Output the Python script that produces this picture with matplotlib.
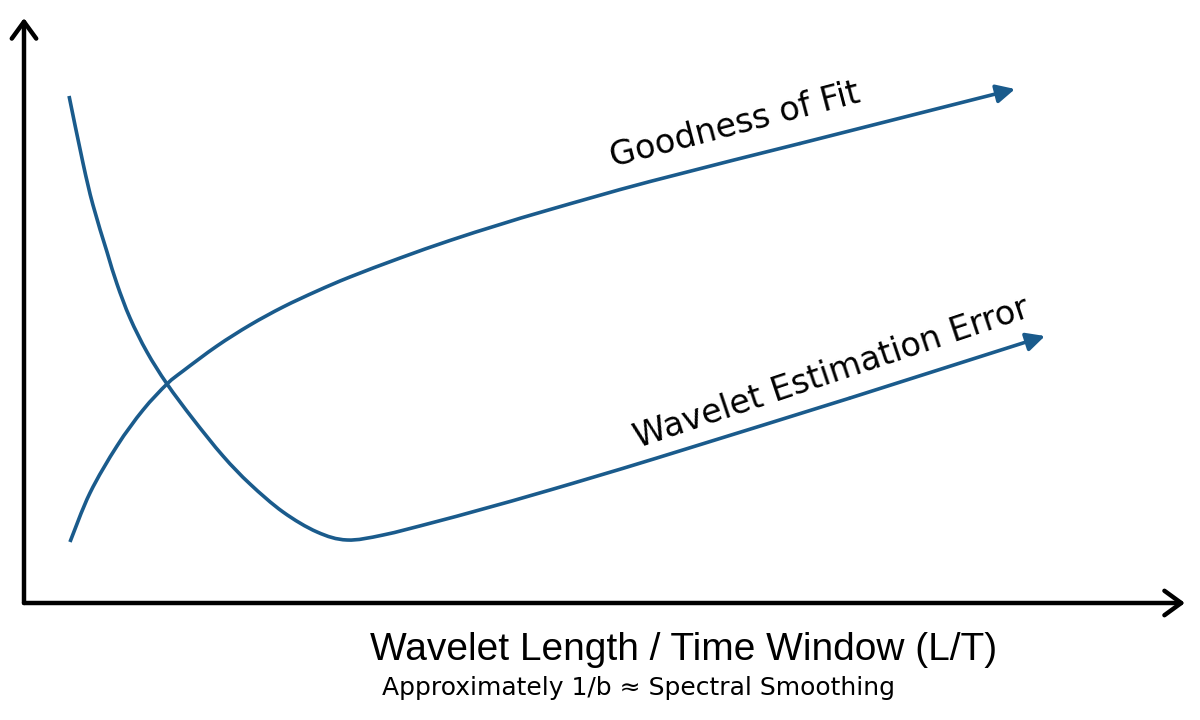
import matplotlib
matplotlib.use("Agg")
import matplotlib.pyplot as plt
from matplotlib.path import Path
from matplotlib.patches import PathPatch

# ---- data (schematic) ----
gof_x = [3.96, 5.68, 8.01, 10.25, 12.32, 13.70, 16.62, 19.47, 22.31, 25.24,
         28.08, 32.39, 36.69, 41.0, 45.31, 53.92, 66.84, 85.36]
gof_y = [10.43, 18.80, 26.84, 32.99, 37.44, 39.66, 43.93, 47.52, 50.60, 53.33,
         55.73, 58.97, 61.97, 64.70, 67.26, 72.05, 78.55, 87.86]

err_x = [3.88, 5.08, 5.94, 7.15, 8.01, 9.13, 10.59, 12.32, 14.56, 17.14, 19.47,
         22.31, 25.24, 27.82, 30.92, 35.23, 39.53, 45.31, 54.52, 71.15, 87.94]
err_y = [86.67, 75.21, 68.03, 60.0, 54.53, 48.72, 42.91, 37.44, 31.45, 25.13, 20.34,
         15.56, 12.14, 10.77, 11.62, 13.76, 16.07, 19.32, 24.79, 35.04, 45.64]

gof_label = "Goodness of Fit"
err_label = "Wavelet Estimation Error"
xlabel_main = "Wavelet Length / Time Window (L/T)"
xlabel_sub = "Approximately 1/b \u2248 Spectral Smoothing"

blue = "#1a5b8c"


def smooth_path(xs, ys):
    """Catmull-Rom curve through the given points, drawn as Bezier segments."""
    pts = list(zip(xs, ys))
    verts = [pts[0]]
    codes = [Path.MOVETO]
    n = len(pts)
    for i in range(n - 1):
        p0 = pts[i - 1] if i > 0 else pts[i]
        p1 = pts[i]
        p2 = pts[i + 1]
        p3 = pts[i + 2] if i + 2 < n else pts[i + 1]
        c1 = (p1[0] + (p2[0] - p0[0]) / 6, p1[1] + (p2[1] - p0[1]) / 6)
        c2 = (p2[0] - (p3[0] - p1[0]) / 6, p2[1] - (p3[1] - p1[1]) / 6)
        verts += [c1, c2, p2]
        codes += [Path.CURVE4] * 3
    return Path(verts, codes)


fig = plt.figure(figsize=(12, 7.2), dpi=100)
ax = fig.add_axes([24 / 1200, 1 - 603 / 720, (1185 - 24) / 1200, (603 - 18) / 720])
ax.set_xlim(0, 100)
ax.set_ylim(0, 100)
ax.axis("off")

# axes arrows
for tip in [(1, 0), (0, 1)]:
    ax.annotate("", xy=tip, xytext=(0, 0), xycoords="axes fraction",
                arrowprops=dict(arrowstyle="->,head_length=0.55,head_width=0.4",
                                color="black", lw=3.2, mutation_scale=22,
                                shrinkA=0, shrinkB=0), annotation_clip=False)

# curves: smooth body + straight final arrow segment
for xs, ys in [(gof_x, gof_y), (err_x, err_y)]:
    ax.add_patch(PathPatch(smooth_path(xs[:-1], ys[:-1]), facecolor="none",
                           edgecolor=blue, lw=2.6, capstyle="butt",
                           joinstyle="round", clip_on=False))
    ax.annotate("", xy=(xs[-1], ys[-1]), xytext=(xs[-2], ys[-2]),
                arrowprops=dict(arrowstyle="-|>,head_length=0.7,head_width=0.35",
                                color=blue, lw=2.6, mutation_scale=16,
                                shrinkA=0, shrinkB=0), annotation_clip=False)

# curve labels
ax.text(61.2, 81.7, gof_label, rotation=14.7, rotation_mode="anchor",
        ha="center", va="center", fontsize=24, family="DejaVu Sans",
        color="black")
ax.text(69.6, 39.2, err_label, rotation=18.5, rotation_mode="anchor",
        ha="center", va="center", fontsize=24, family="DejaVu Sans",
        color="black")

# axis labels
fig.text(684 / 1200, 1 - 650 / 720, xlabel_main, ha="center", va="center",
         fontsize=28, family="Liberation Sans", color="black")
fig.text(638 / 1200, 1 - 688 / 720, xlabel_sub, ha="center", va="center",
         fontsize=18, family="DejaVu Sans", color="black")

fig.savefig("out.png", dpi=100, facecolor="white")
